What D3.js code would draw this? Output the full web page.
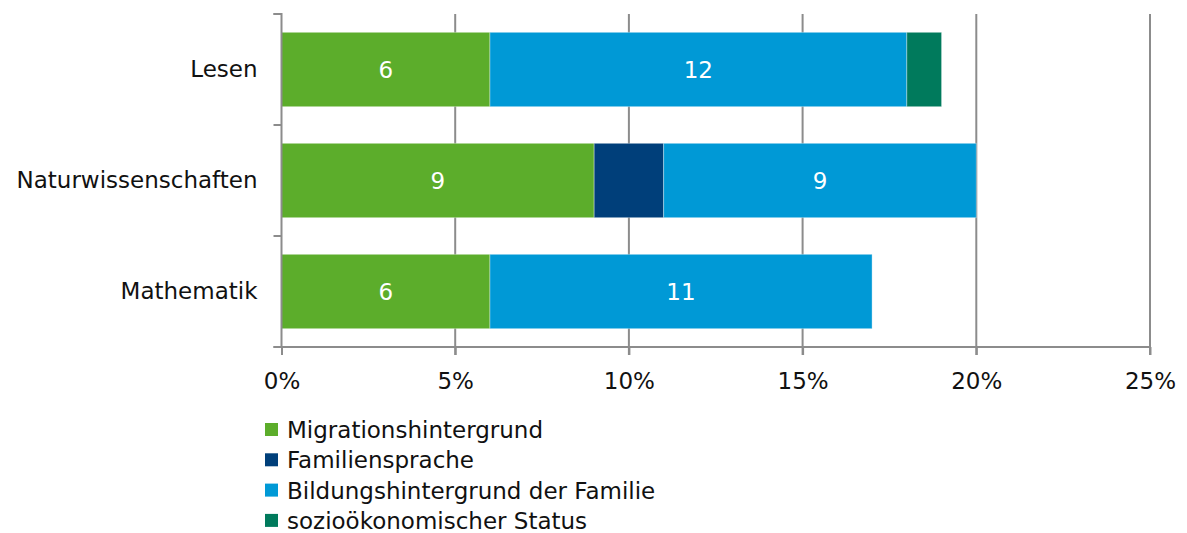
<!DOCTYPE html>
<html>
<head>
<meta charset="utf-8">
<script src="https://cdn.jsdelivr.net/npm/d3@7"></script>
<style>
 body{margin:0;background:#fff;}
 text{font-family:"DejaVu Sans",Verdana,sans-serif;}
</style>
</head>
<body>
<svg id="chart" width="1187" height="533"></svg>
<script>
// ---- data ----
const categories=["Lesen","Naturwissenschaften","Mathematik"];
const seriesNames=["Migrationshintergrund","Familiensprache","Bildungshintergrund der Familie","sozioökonomischer Status"];
const migration=[6,9,6];
const sprache=[0,2,0];
const bildung=[12,9,11];
const status=[1,0,0];
const xTicks=[0,5,10,15,20,25];
const colors=["#5cad2b","#003f7a","#0099d6","#007a5c"];

const rows=categories.map((c,i)=>({cat:c,
 "Migrationshintergrund":migration[i],
 "Familiensprache":sprache[i],
 "Bildungshintergrund der Familie":bildung[i],
 "sozioökonomischer Status":status[i]}));

const svg=d3.select("#chart");
const x=d3.scaleLinear().domain([0,25]).range([281.5,1150]);
const y=d3.scaleBand().domain(categories).range([14,347]).paddingInner(0.33).paddingOuter(0.165);
const color=d3.scaleOrdinal().domain(seriesNames).range(colors);

// grid
svg.append("g").selectAll("line").data(xTicks.slice(1)).enter().append("line")
 .attr("x1",d=>x(d)).attr("x2",d=>x(d))
 .attr("y1",14).attr("y2",355)
 .attr("stroke","#8c8c8c").attr("stroke-width",2);

// stacked bars
const stacked=d3.stack().keys(seriesNames)(rows);
const layers=svg.append("g").selectAll("g").data(stacked).enter().append("g")
 .attr("fill",d=>color(d.key));
layers.selectAll("rect").data(d=>d.filter(s=>s[1]-s[0]>0)).enter().append("rect")
 .attr("x",d=>x(d[0])).attr("width",d=>x(d[1])-x(d[0]))
 .attr("y",d=>y(d.data.cat)).attr("height",y.bandwidth())
 .attr("stroke","#ffffff").attr("stroke-opacity",0.35).attr("stroke-width",1);

layers.selectAll("text").data(d=>d.filter(s=>s[1]-s[0]>=5)).enter().append("text")
 .attr("x",d=>(x(d[0])+x(d[1]))/2)
 .attr("y",d=>y(d.data.cat)+y.bandwidth()/2)
 .attr("dy","0.36em").attr("text-anchor","middle")
 .attr("fill","#fff").style("font-size","23px")
 .text(d=>d[1]-d[0]);

// axes
const xAxis=svg.append("g").attr("transform","translate(0,347)")
 .call(d3.axisBottom(x).tickValues(xTicks).tickFormat(d=>d+"%").tickSize(8).tickPadding(18));
xAxis.select(".domain").attr("d",`M${x(0)-8},0H${x(25)}`);
const yAxis=svg.append("g").attr("transform",`translate(${x(0)},0)`)
 .call(d3.axisLeft(y).tickSize(0).tickPadding(24));
yAxis.select(".domain").attr("d","M-8,14H0V347");
// category separators on y axis
const seps=[0,1,2,3].map(i=>14+i*y.step());
yAxis.selectAll("line.sep").data(seps).enter().append("line").attr("class","sep")
 .attr("x1",-8).attr("x2",0).attr("y1",d=>d).attr("y2",d=>d);
svg.selectAll(".domain, .tick line, line.sep").attr("stroke","#8c8c8c").attr("stroke-width",2);
svg.selectAll(".tick text").attr("fill","#111").style("font-size","23px");

// legend
const lg=svg.append("g").selectAll("g").data(seriesNames).enter().append("g")
 .attr("transform",(d,i)=>`translate(265,${430+i*30.3})`);
lg.append("rect").attr("x",0).attr("y",-7).attr("width",13).attr("height",13).attr("fill",d=>color(d));
lg.append("text").attr("x",22).attr("dy","0.35em").attr("fill","#111").style("font-size","23px").text(d=>d);
</script>
</body>
</html>
